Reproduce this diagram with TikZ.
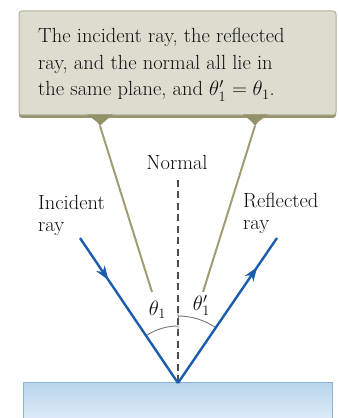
\documentclass[tikz,border=0pt]{standalone}
\usetikzlibrary{arrows.meta,decorations.markings,shadings,calc}
\definecolor{boxfill}{RGB}{221,221,207}
\definecolor{boxedge}{RGB}{178,178,152}
\definecolor{boxshadow}{RGB}{150,148,112}
\definecolor{olive}{RGB}{160,157,115}
\definecolor{olivedark}{RGB}{148,145,104}
\definecolor{rayblue}{RGB}{28,92,172}
\definecolor{arcgray}{RGB}{120,120,120}
\definecolor{surftop}{RGB}{184,213,236}
\definecolor{surfbot}{RGB}{226,238,248}
\definecolor{surfedge}{RGB}{140,180,214}
\definecolor{txt}{RGB}{15,15,15}
\tikzset{
  lbl/.style={inner sep=0pt, text=txt, font=\fontsize{20.5}{24}\selectfont},
  leader/.style={draw=olive, line width=2pt},
  ray/.style={draw=rayblue, line width=2.4pt},
  angarc/.style={draw=arcgray, line width=0.9pt},
  normalline/.style={draw=black!70, line width=1.1pt, dash pattern=on 7pt off 4.5pt},
  midarrow/.style={postaction={decorate}, decoration={markings,
      mark=at position #1 with {\arrow{Stealth[length=14pt,width=10pt,inset=4pt]}}}}
}
\begin{document}
\begin{tikzpicture}[x=1pt,y=1pt]
\useasboundingbox (0,0) rectangle (338,418);
\begin{scope}
\clip (0,0) rectangle (338,418);
% surface
\path[top color=surftop, bottom color=surfbot, draw=surfedge, line width=1pt]
  (23,-6) rectangle (332,35);
\end{scope}
% callout box with shadow
\fill[boxshadow, rounded corners=3pt] (19,300) rectangle (336,404);
\node[draw=boxedge, fill=boxfill, rounded corners=3pt, line width=1pt,
      minimum width=317pt, minimum height=104pt, inner sep=0pt] (callout) at (177.5,355) {};
\coordinate (pl) at (100,292);
\coordinate (pr) at (255,292);
\coordinate (ple) at (152,126);
\coordinate (pre) at (203,126);
\fill[olivedark] (87,303.5) -- (113,303.5) -- (104,296) -- (pl) -- (97,296) -- cycle;
\fill[olivedark] (243,303.5) -- (268,303.5) -- (258,296) -- (pr) -- (252,296) -- cycle;
\draw[leader] (pl) -- (ple);
\draw[leader] (pr) -- (pre);
% callout text
\node[lbl, anchor=base west] (t1) at (38,375) {The incident ray, the reflected};
\node[lbl, anchor=base west] (t2) at (38,348.5) {ray, and the normal all lie in};
\node[lbl, anchor=base west] (t3) at (38,322) {the same plane, and $\theta_1' = \theta_1$.};
% geometry
\coordinate (O) at (178,35);
\coordinate (A) at (80,180);
\coordinate (B) at (277,180);
\coordinate (ntop) at (178,238);
\node[lbl, anchor=base] (normal) at (177,248) {Normal};
\draw[normalline] (ntop) -- (O);
% angle arcs
\draw[angarc] ($(O)+(124:57)$) arc[start angle=124, end angle=90, radius=57] -- ++(0,-6);
\draw[angarc] ($(O)+(55.7:67)$) arc[start angle=55.7, end angle=90, radius=67] -- ++(0,3);
\draw[angarc] ($(O)+(90:67)$) -- ++(0,-3);
% rays
\draw[ray, midarrow=0.29] (A) -- (O);
\draw[ray, midarrow=0.80] (O) -- (B);
% labels
\node[lbl, anchor=base west] (inc1) at (38,208) {Incident};
\node[lbl, anchor=base west] (inc2) at (38,186) {ray};
\node[lbl, anchor=base west] (ref1) at (243,210) {Reflected};
\node[lbl, anchor=base west] (ref2) at (243,188) {ray};
\node[lbl] (th1) at (157.5,108) {$\theta_1$};
\node[lbl] (th1p) at (201.5,112.5) {$\theta_1'$};
\end{tikzpicture}
\end{document}
